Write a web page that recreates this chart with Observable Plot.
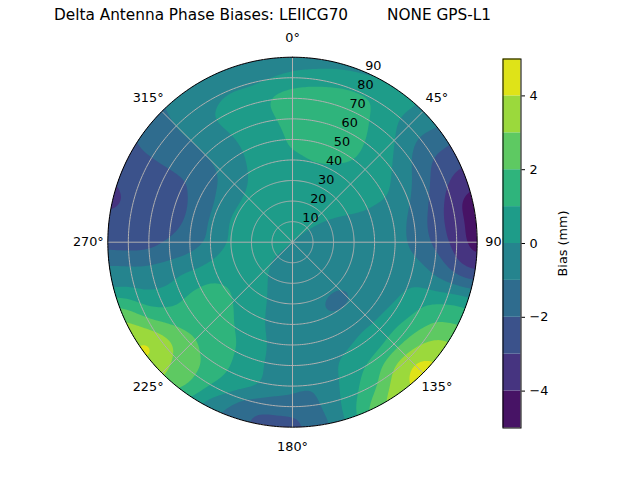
<!DOCTYPE html>
<html>
<head>
<meta charset="utf-8">
<script src="https://cdn.jsdelivr.net/npm/d3@7"></script>
<script src="https://cdn.jsdelivr.net/npm/@observablehq/plot@0.6"></script>
<style>
html, body { margin: 0; padding: 0; background: #fff; }
#wrap { position: relative; width: 640px; height: 480px; overflow: hidden; font-family: "DejaVu Sans", sans-serif; }
#wrap svg { position: absolute; left: 0; top: 0; }
#title { position: absolute; left: 54px; top: 8px; font: 15.3px "DejaVu Sans"; line-height: 1; white-space: pre; color: #000; }
</style>
</head>
<body>
<div id="wrap"><div id="title"></div></div>
<script>
// ---- text ----
const title = "Delta Antenna Phase Biases: LEIICG70        NONE GPS-L1";
const colorbarLabel = "Bias (mm)";

// ---- grid (x = east, y = north, in zenith degrees) ----
const gridX = [-90, -80, -70, -60, -50, -40, -30, -20, -10, 0, 10, 20, 30, 40, 50, 60, 70, 80, 90];
const gridY = [90, 80, 70, 60, 50, 40, 30, 20, 10, 0, -10, -20, -30, -40, -50, -60, -70, -80, -90];

// bias values (mm), one row per gridY, one column per gridX
const z90  = [-1.4,-1.3,-1.2,-1.0,-0.9,-0.8,-0.7,-0.7,-0.8,-0.9,-0.8,-0.7,-0.6,-0.4,-0.3,-0.5,-0.8,-1.1,-1.4];
const z80  = [-1.4,-1.3,-1.2,-1.0,-0.8,-0.6,-0.4,-0.3,-0.05,0.5,0.6,0.6,0.3,-0.1,0.2,-0.2,-0.6,-1.0,-1.2];
const z70  = [-1.4,-1.3,-1.1,-0.9,-0.6,-0.2,0.2,0.4,1.3,1.5,1.6,1.5,1.4,1.0,0.4,0.2,-0.3,-0.8,-1.2];
const z60  = [-1.6,-1.5,-1.3,-1.0,-0.6,0.0,0.4,0.6,0.9,1.4,1.6,1.5,1.4,0.9,0.1,-0.3,-0.6,-1.0,-1.3];
const z50  = [-2.4,-2.2,-1.8,-1.3,-1.0,-0.6,-0.1,0.4,0.6,1.2,1.4,1.4,1.3,0.8,0.05,-1.0,-1.5,-2.0,-2.4];
const z40  = [-2.4,-2.2,-2.1,-1.8,-1.4,-1.0,-0.5,0.2,0.6,0.8,1.05,1.1,1.05,0.6,0.0,-1.3,-2.2,-2.7,-3.0];
const z30  = [-3.2,-2.7,-2.5,-2.3,-2.0,-1.3,-0.6,0.1,0.5,0.6,0.7,0.7,0.6,0.3,0.0,-1.2,-2.3,-3.3,-3.8];
const z20  = [-3.4,-2.9,-2.6,-2.5,-2.0,-1.2,-0.3,0.3,0.5,0.5,0.5,0.4,0.3,0.1,-0.1,-1.3,-2.4,-3.9,-4.6];
const z10  = [-2.7,-2.8,-2.7,-2.5,-1.8,-0.9,0.2,0.5,0.5,0.3,0.1,-0.1,-0.2,-0.3,-0.6,-1.3,-2.6,-3.6,-4.6];
const z0   = [-2.6,-2.7,-2.6,-1.9,-1.5,-0.9,0.2,0.4,0.3,0.0,-0.3,-0.4,-0.4,-0.5,-0.7,-1.2,-2.3,-3.5,-4.6];
const zm10 = [-1.0,-1.1,-1.05,-0.9,-0.6,0.1,0.4,0.5,-0.05,-0.4,-0.5,-0.5,-0.5,-0.5,-0.6,-0.8,-1.5,-3.0,-3.8];
const zm20 = [-0.6,-0.3,-0.4,-0.1,0.8,1.2,1.0,0.6,-0.2,-0.5,-0.6,-0.8,-0.9,-0.5,-0.4,-0.1,-0.8,-1.3,-1.8];
const zm30 = [2.0,1.5,0.7,0.8,1.4,1.5,1.1,0.5,-0.2,-0.5,-0.7,-1.45,-0.9,-0.4,0.0,0.7,1.1,1.1,0.5];
const zm40 = [3.3,3.3,2.5,2.0,1.6,1.5,1.1,0.5,-0.3,-0.5,-0.5,-0.6,-0.3,0.0,0.9,1.5,2.2,2.0,1.8];
const zm50 = [3.8,3.9,4.4,3.3,2.3,1.6,1.2,0.6,-0.2,-0.5,-0.5,-0.3,0.0,0.6,1.6,2.9,3.4,3.0,2.5];
const zm60 = [3.5,3.8,4.0,3.0,2.5,1.7,1.0,0.4,-0.3,-0.5,-0.4,-0.1,0.6,1.4,3.2,4.4,4.2,3.5,3.0];
const zm70 = [3.0,3.0,3.0,2.5,2.0,1.0,0.5,0.3,-0.3,-0.6,-1.0,-0.3,0.8,1.7,3.5,4.4,4.0,3.5,3.0];
const zm80 = [1.0,1.0,1.0,0.8,0.3,-0.8,-1.2,-1.9,-1.8,-1.6,-1.3,-0.5,0.9,2.5,3.5,3.5,3.5,3.0,3.0];
const zm90 = [1.0,1.0,1.0,0.5,0.0,-0.8,-1.5,-2.2,-2.4,-2.5,-1.6,-1.0,0.5,2.5,3.0,3.0,3.0,3.0,3.0];
const rows = [z90, z80, z70, z60, z50, z40, z30, z20, z10, z0, zm10, zm20, zm30, zm40, zm50, zm60, zm70, zm80, zm90];

// ---- levels & ticks ----
const levels = [-5, -4, -3, -2, -1, 0, 1, 2, 3, 4];       // contour band lower bounds
const colorbarTicks = [-4, -2, 0, 2, 4];
const ringTicks = [10, 20, 30, 40, 50, 60, 70, 80];
const rLabelTicks = [10, 20, 30, 40, 50, 60, 70, 80, 90];
const angleTicks = [0, 45, 90, 135, 180, 225, 270, 315];
const rMax = 90;

// ---- build tables ----
const points = [];
gridY.forEach((y, j) => gridX.forEach((x, i) => points.push({x, y, v: rows[j][i]})));
const rad = (d) => d * Math.PI / 180;
const px = (r, a) => r * Math.sin(rad(a));
const py = (r, a) => r * Math.cos(rad(a));
const circleAngles = d3.range(0, 361, 1);
const ringPts = ringTicks.flatMap(r => circleAngles.map(a => ({r, x: px(r, a), y: py(r, a)})));
const outerPts = circleAngles.map(a => ({x: px(rMax, a), y: py(rMax, a)}));

const color = {type: "linear", scheme: "viridis", domain: [-5.5, 4.5]};
const font = {fontFamily: "DejaVu Sans", fontSize: "12.8px", background: "transparent", overflow: "visible"};

const main = Plot.plot({
  width: 640, height: 480,
  marginLeft: 107.3, marginRight: 163.3, marginTop: 56.7, marginBottom: 53.3,
  x: {domain: [-rMax, rMax], axis: null},
  y: {domain: [-rMax, rMax], axis: null},
  color,
  style: font,
  marks: [
    Plot.contour(points, {x: "x", y: "y", fill: "v", interpolate: "barycentric", thresholds: levels, blur: 3, stroke: "none"}),
    Plot.line(ringPts, {x: "x", y: "y", z: "r", stroke: "#b0b0b0", strokeWidth: 1}),
    Plot.link(angleTicks, {x1: () => 0, y1: () => 0, x2: a => px(rMax, a), y2: a => py(rMax, a), stroke: "#b0b0b0", strokeWidth: 1}),
    Plot.line(outerPts, {x: "x", y: "y", stroke: "black", strokeWidth: 1}),
    Plot.text(angleTicks, {x: a => px(99.5, a), y: a => py(99.5, a), text: a => `${a}°`, fontSize: 12.8, textAnchor: "middle", lineAnchor: "middle", fill: "black"}),
    Plot.text(rLabelTicks, {x: r => px(r, 22.5), y: r => py(r, 22.5), text: r => `${r}`, fontSize: 12.8, textAnchor: "start", lineAnchor: "bottom", dx: 2, dy: -1, fill: "black"})
  ]
});

// clip filled contours to the polar disc
(function clipDisc() {
  const ns = "http://www.w3.org/2000/svg";
  const sx = main.scale("x"), sy = main.scale("y");
  const defs = document.createElementNS(ns, "defs");
  const cp = document.createElementNS(ns, "clipPath");
  cp.setAttribute("id", "polar-disc");
  const c = document.createElementNS(ns, "circle");
  c.setAttribute("cx", sx.apply(0));
  c.setAttribute("cy", sy.apply(0));
  c.setAttribute("r", sx.apply(rMax) - sx.apply(0));
  cp.appendChild(c); defs.appendChild(cp);
  main.insertBefore(defs, main.firstChild);
  const g = main.querySelector('g[aria-label="contour"]');
  if (g) g.setAttribute("clip-path", "url(#polar-disc)");
})();

const colorbar = Plot.plot({
  width: 640, height: 480,
  marginLeft: 502.5, marginRight: 119.5, marginTop: 58.5, marginBottom: 52.5,
  x: {domain: [0, 1], axis: null},
  y: {domain: [-5, 5], axis: null},
  color,
  style: font,
  marks: [
    Plot.rect(levels, {x1: () => 0, x2: () => 1, y1: d => d, y2: d => d + 1, fill: d => d}),
    Plot.frame({stroke: "black", strokeWidth: 1}),
    Plot.axisY(colorbarTicks, {anchor: "right", tickSize: 3.5, tickPadding: 5, fontSize: 12.8, label: null, tickFormat: d3.format("d")}),
    Plot.text([colorbarLabel], {frameAnchor: "right", dx: 41.5, rotate: -90, fontSize: 12.8, textAnchor: "middle", lineAnchor: "middle", fill: "black"})
  ]
});

const wrap = document.getElementById("wrap");
document.getElementById("title").textContent = title;
wrap.appendChild(main);
wrap.appendChild(colorbar);
</script>
</body>
</html>
